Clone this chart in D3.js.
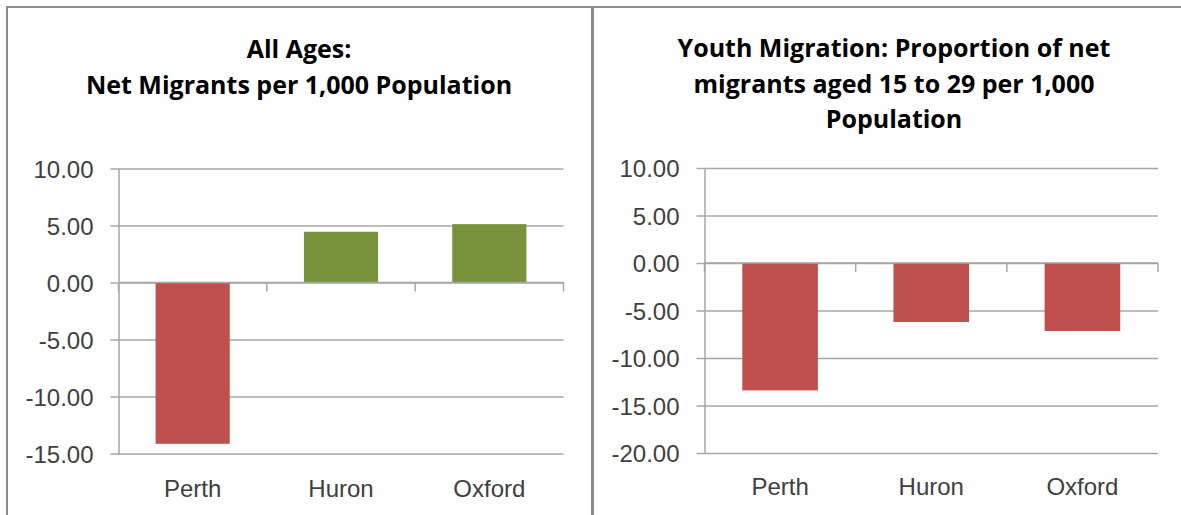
<!DOCTYPE html>
<html>
<head>
<meta charset="utf-8">
<script src="https://cdn.jsdelivr.net/npm/d3@7"></script>
<style>
  body { margin: 0; background: #fff; }
  svg { font-family: "Open Sans", Lato, sans-serif; }
  .title { font-weight: bold; fill: #000; font-size: 25px; }
  .tickLabel text { fill: #404040; font-size: 24px; }
  .catLabel text { fill: #404040; font-size: 24px; }
</style>
</head>
<body>
<div id="chart"></div>
<script>

// data
var categories = ["Perth", "Huron", "Oxford"];
var allAgesValues = [-14.15, 4.45, 5.12];
var youthValues = [-13.41, -6.21, -7.16];
var allAgesTicks = [10, 5, 0, -5, -10, -15];
var youthTicks = [10, 5, 0, -5, -10, -15, -20];
var allAgesTitle = ["All Ages:", "Net Migrants per 1,000 Population"];
var youthTitle = ["Youth Migration: Proportion of net", "migrants aged 15 to 29 per 1,000", "Population"];

var positiveColor = "#77933C",
  negativeColor = "#C0504D",
  gridColor = "#A6A6A6",
  borderColor = "#8C8C8C";

// hyphen minus like Excel, not the unicode one of d3 v7
var fmt = d3.formatLocale({decimal: ".", thousands: ",", grouping: [3], currency: ["", ""], minus: "-"}).format(".2f");

var svg = d3.select("#chart").append("svg")
  .attr("width", 1181).attr("height", 515);

/************************************************************************************************************/

function drawPanel(panel, values, ticks, titleLines){

  var g = svg.append("g").attr("transform", "translate(" + [panel.left, panel.top] + ")");
  var width = panel.right - panel.left,
    height = panel.bottom - panel.top;

  var y = d3.scaleLinear()
    .domain([d3.min(ticks), d3.max(ticks)])
    .range([height, 0]);

  var x = d3.scaleBand()
    .domain(categories)
    .range([0, width])
    .paddingInner(0.5)
    .paddingOuter(0.25);

  //grid + y labels
  var yAxis = g.append("g").classed("tickLabel", true)
    .call(d3.axisLeft(y).tickValues(ticks).tickFormat(fmt).tickSize(-width).tickSizeOuter(0).tickPadding(25));

  yAxis.selectAll(".tick line").attr("x1", -8).attr("stroke", gridColor).attr("stroke-width", 1.5);
  yAxis.select(".domain").attr("stroke", gridColor).attr("stroke-width", 1.5);
  yAxis.selectAll(".tick text").attr("dy", "0.36em");

  //bars
  g.append("g").selectAll("rect")
    .data(values)
    .join("rect")
    .attr("x", function(d, i){ return x(categories[i]); })
    .attr("width", x.bandwidth())
    .attr("y", function(d){ return y(Math.max(0, d)); })
    .attr("height", function(d){ return Math.abs(y(d) - y(0)); })
    .attr("fill", function(d){ return d < 0 ? negativeColor : positiveColor; });

  //category axis at zero, small ticks between categories
  g.append("line")
    .attr("x1", 0).attr("x2", width)
    .attr("y1", y(0)).attr("y2", y(0))
    .attr("stroke", gridColor).attr("stroke-width", 1.5);

  g.append("g").selectAll("line")
    .data(d3.range(categories.length + 1))
    .join("line")
    .attr("x1", function(i){ return i * x.step(); })
    .attr("x2", function(i){ return i * x.step(); })
    .attr("y1", y(0)).attr("y2", y(0) + 9)
    .attr("stroke", gridColor).attr("stroke-width", 1.5);

  //category names under the plot
  var xAxis = g.append("g").classed("catLabel", true)
    .attr("transform", "translate(0," + height + ")")
    .call(d3.axisBottom(x).tickSize(0).tickPadding(panel.labelPad));
  xAxis.select(".domain").remove();

  //title
  svg.append("g").selectAll("text")
    .data(titleLines)
    .join("text")
    .classed("title", true)
    .attr("text-anchor", "middle")
    .attr("x", panel.titleX)
    .attr("y", function(d, i){ return panel.titleY + i * 35.5; })
    .text(function(d){ return d; });
}

/************************************************************************************************************/

//panel frames
svg.append("rect")
  .attr("x", 7).attr("y", 7).attr("width", 585).attr("height", 520)
  .attr("fill", "none").attr("stroke", borderColor).attr("stroke-width", 2);

svg.append("rect")
  .attr("x", 593).attr("y", 7).attr("width", 600).attr("height", 520)
  .attr("fill", "none").attr("stroke", borderColor).attr("stroke-width", 2);

drawPanel({left: 118.5, right: 563.5, top: 168.5, bottom: 453.5, titleX: 299, titleY: 58, labelPad: 26},
  allAgesValues, allAgesTicks, allAgesTitle);

drawPanel({left: 704.5, right: 1158, top: 168, bottom: 453, titleX: 894, titleY: 57, labelPad: 25},
  youthValues, youthTicks, youthTitle);

</script>
</body>
</html>
